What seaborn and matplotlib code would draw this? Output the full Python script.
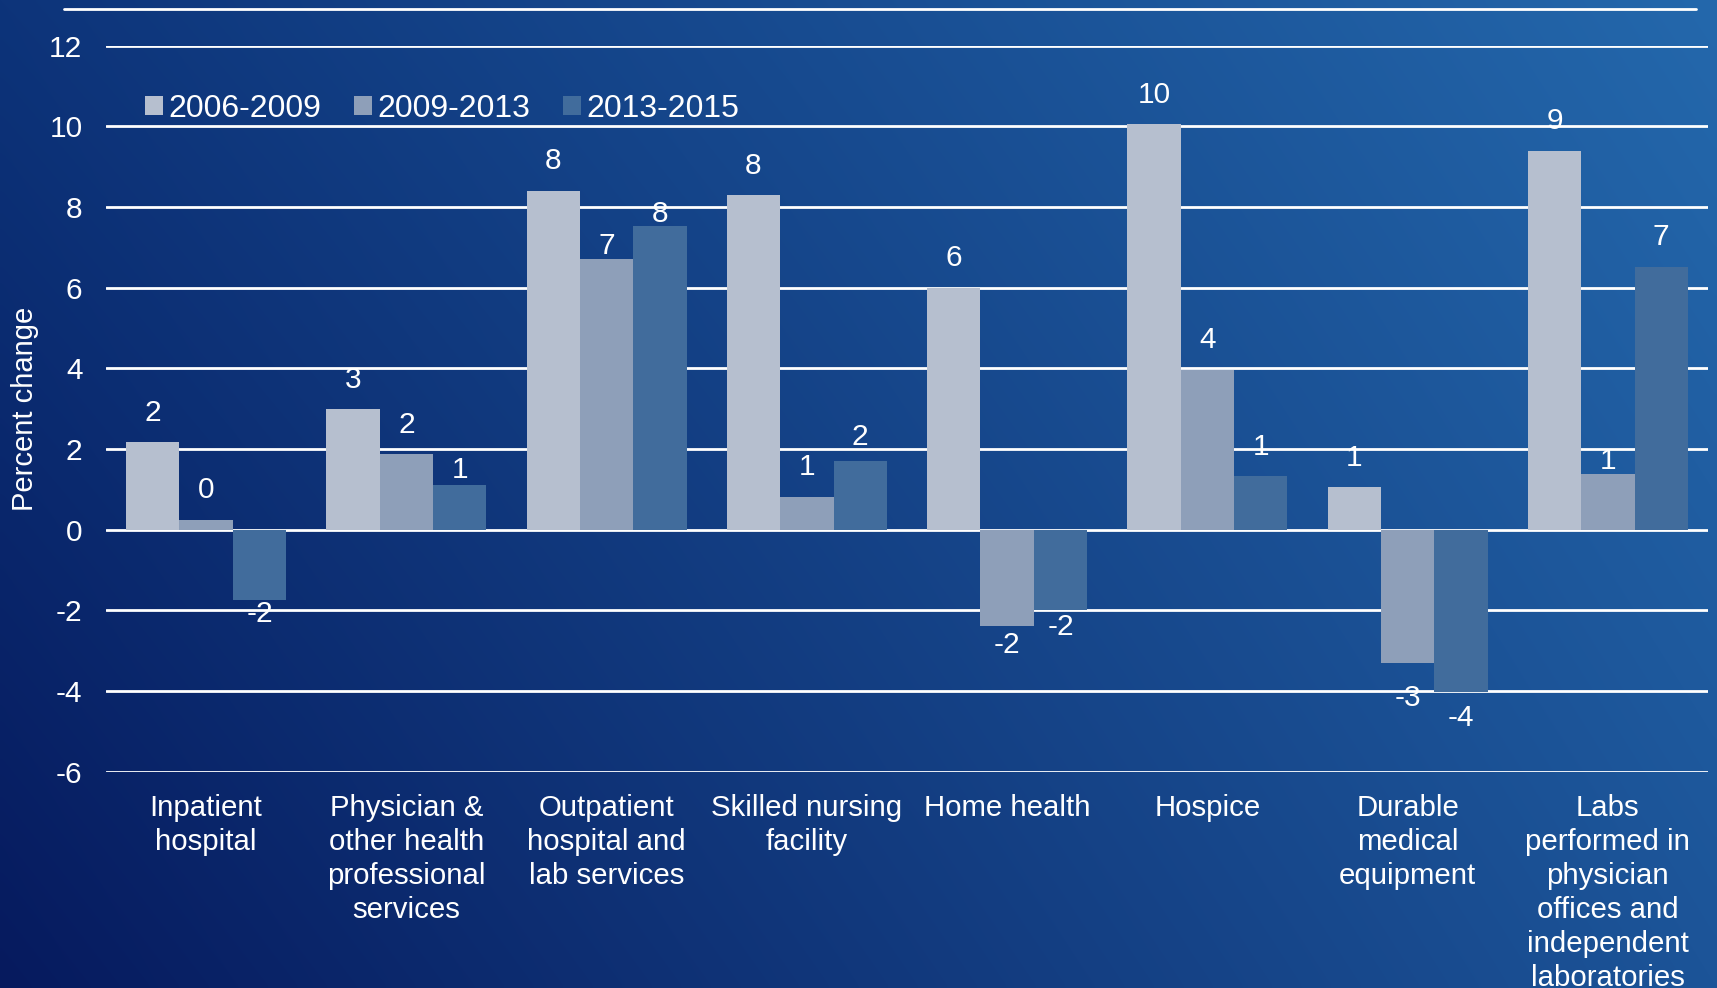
import numpy as np
import pandas as pd
import matplotlib
matplotlib.use("Agg")
import matplotlib.pyplot as plt
from matplotlib.lines import Line2D
from matplotlib.patches import Patch
from matplotlib.colors import to_rgb
import seaborn as sns

# ---- data -------------------------------------------------------------
categories = [
    "Inpatient\nhospital",
    "Physician &\nother health\nprofessional\nservices",
    "Outpatient\nhospital and\nlab services",
    "Skilled nursing\nfacility",
    "Home health",
    "Hospice",
    "Durable\nmedical\nequipment",
    "Labs\nperformed in\nphysician\noffices and\nindependent\nlaboratories",
]
periods = ["2006-2009", "2009-2013", "2013-2015"]
change_2006_2009 = [2.17, 2.99, 8.40, 8.29, 6.00, 10.05, 1.05, 9.40]
change_2009_2013 = [0.25, 1.87, 6.71, 0.82, -2.39, 3.97, -3.30, 1.39]
change_2013_2015 = [-1.75, 1.12, 7.53, 1.71, -1.99, 1.33, -4.02, 6.52]
y_ticks = [-6, -4, -2, 0, 2, 4, 6, 8, 10, 12]

series = [change_2006_2009, change_2009_2013, change_2013_2015]
df = pd.DataFrame({
    "category": [c for _ in periods for c in categories],
    "period": [p for p in periods for _ in categories],
    "change": [v for vals in series for v in vals],
})

# ---- style ------------------------------------------------------------
sns.set_style("white")
plt.rcParams["font.family"] = ["Liberation Sans", "DejaVu Sans"]
plt.rcParams["axes.unicode_minus"] = False

bar_colors = ["#b6bfcf", "#8e9fb9", "#416c9c"]
text_color = "white"

W, H, DPI = 1717, 988, 100
fig = plt.figure(figsize=(W / DPI, H / DPI), dpi=DPI)

# diagonal blue gradient backdrop
bg = fig.add_axes([0, 0, 1, 1], zorder=0)
c_tl, c_tr = np.array(to_rgb("#0d347a")), np.array(to_rgb("#2468ac"))
c_bl, c_br = np.array(to_rgb("#061a5e")), np.array(to_rgb("#1c5498"))
gy, gx = np.mgrid[0:1:200j, 0:1:350j]
gx, gy = gx[..., None], gy[..., None]
grad = (c_tl * (1 - gx) * (1 - gy) + c_tr * gx * (1 - gy)
        + c_bl * (1 - gx) * gy + c_br * gx * gy)
bg.imshow(grad, aspect="auto", interpolation="bicubic", extent=[0, 1, 0, 1])
bg.set_axis_off()

# rule across the top of the slide
fig.add_artist(Line2D([64 / W, 1696 / W], [1 - 9 / H] * 2, color="white",
                      lw=2, transform=fig.transFigure, zorder=3))

ax = fig.add_axes([106 / W, 1 - 771.7 / H, 1602 / W, 726 / H], zorder=1)
ax.patch.set_alpha(0)

sns.barplot(data=df, x="category", y="change", hue="period",
            order=categories, hue_order=periods, palette=bar_colors,
            width=0.8, saturation=1, errorbar=None, linewidth=0,
            legend=False, ax=ax)

ax.set_xlim(-0.5, len(categories) - 0.5)
ax.set_ylim(-6, 12)
ax.set_yticks(y_ticks)
ax.set_axisbelow(True)
ax.yaxis.grid(True, color="white", lw=2)
ax.xaxis.grid(False)
for s in ax.spines.values():
    s.set_visible(False)

ax.tick_params(axis="y", colors=text_color, labelsize=21.5, length=0, pad=17)
ax.tick_params(axis="x", colors=text_color, labelsize=21.2, length=0, pad=16)
for lab in ax.get_xticklabels():
    lab.set_linespacing(1.27)
ax.set_xlabel("")
ax.set_ylabel("Percent change", color=text_color, fontsize=21)
ax.yaxis.set_label_coords(-0.042, 0.5)

# value labels at the outer end of each bar
default_off = {True: 29.5, False: -20}
nudges = {(0, 2): -14, (1, 2): 15, (2, 1): 13, (2, 2): 12, (3, 2): 24,
          (4, 1): -19, (4, 2): -17, (6, 1): -35, (6, 2): -26, (7, 1): 13}
for si, (cont, vals) in enumerate(zip(ax.containers, series)):
    for ci, (bar, v) in enumerate(zip(cont, vals)):
        x = bar.get_x() + bar.get_width() / 2
        off = nudges.get((ci, si), default_off[v >= 0])
        ax.annotate(f"{v:.0f}", (x, v), xytext=(0, off),
                    textcoords="offset pixels", ha="center", va="center",
                    color=text_color, fontsize=21.5, zorder=4)

handles = [Patch(facecolor=c, edgecolor="none", label=p)
           for c, p in zip(bar_colors, periods)]
fig.legend(handles=handles, loc="center left",
           bbox_to_anchor=(145 / W, 1 - 109 / H), ncol=3, frameon=False,
           fontsize=23, labelcolor=text_color, handlelength=0.55,
           handleheight=0.55, handletextpad=0.18, columnspacing=1.03,
           borderpad=0, borderaxespad=0)

fig.savefig("out.png", dpi=DPI)
